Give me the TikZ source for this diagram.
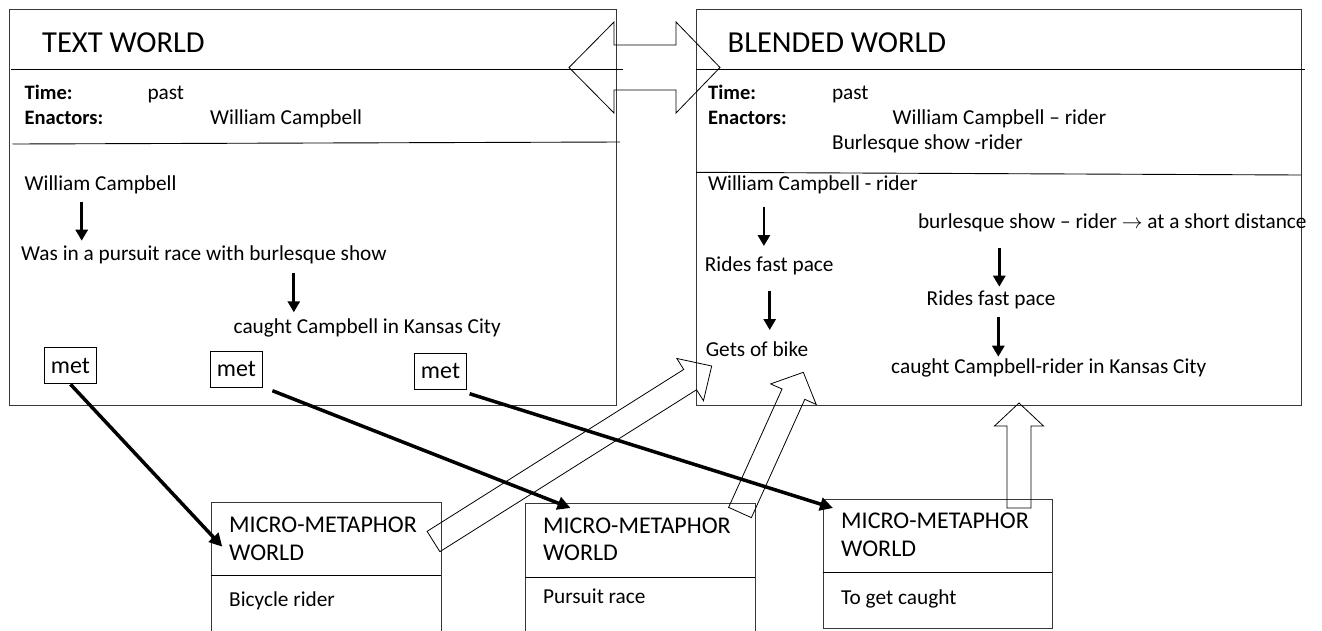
\documentclass[tikz,border=0pt]{standalone}
\usepackage{fontspec}
\setmainfont{Carlito}
\usetikzlibrary{calc,arrows.meta}

% hollow block arrow: tail, tip, shaft half-width, head half-width, head length
\newcommand\blockarrow[5]{%
  \path ($(#2)!#5!(#1)$) coordinate (neck);
  \draw[hollow] ($(#1)!#3!90:(#2)$) -- ($(neck)!#3!90:(#2)$)
    -- ($(neck)!#4!90:(#2)$) -- (#2) -- ($(neck)!#4!-90:(#2)$)
    -- ($(neck)!#3!-90:(#2)$) -- ($(#1)!#3!-90:(#2)$) -- cycle;}

\begin{document}
\begin{tikzpicture}[x=1pt,y=-1pt,
  frame/.style={draw=black!78, line width=0.9pt, inner sep=0pt, anchor=north west},
  rule/.style={draw=black, line width=0.9pt},
  txt/.style={anchor=base west, inner sep=0pt, font=\fontsize{21.3}{25}\selectfont},
  lbl/.style={anchor=base west, inner sep=0pt, font=\fontsize{20.5}{24}\selectfont\bfseries},
  heading/.style={anchor=base west, inner sep=0pt, font=\fontsize{30.5}{36}\selectfont},
  mtitle/.style={anchor=base west, inner sep=0pt, font=\fontsize{24}{28}\selectfont},
  metbox/.style={draw=black, line width=1pt, minimum width=52pt, minimum height=36pt,
    inner sep=0pt, font=\fontsize{24}{28}\selectfont, anchor=north west},
  flow/.style={line width=2.8pt, -{Triangle[length=11pt,width=12pt]}},
  link/.style={line width=3.5pt, -{Triangle[length=13pt,width=13pt]}},
  hollow/.style={draw=black, line width=0.8pt, line join=miter},
]
\useasboundingbox (0,0) rectangle (1322,630);

% ---------- text world ----------
\node[frame, minimum width=607pt, minimum height=396pt] (tw) at (9,9) {};
\draw[rule] (11,69) -- (623,69);
\draw[rule] (12.5,144) -- (620,142);
\node[heading] (twtitle) at (42,52.7) {TEXT WORLD};
\node[lbl] (twtime) at (24.5,99.3) {Time:};
\node[txt] (twpast) at (147.3,99.3) {past};
\node[lbl] (twenact) at (24.5,124) {Enactors:};
\node[txt] (twwc) at (210,124) {William Campbell};
\node[txt] (tw1) at (24.5,190) {William Campbell};
\node[txt] (tw2) at (21,260) {Was in a pursuit race with burlesque show};
\node[txt] (tw3) at (233.5,333.3) {caught Campbell in Kansas City};
\draw[flow] (81.7,201.7) -- (81.7,240.7);
\draw[flow] (293.8,272.7) -- (293.8,312.3);

\node[metbox] (met1) at (44,347.3) {met};
\node[metbox] (met2) at (210,350.7) {met};
\node[metbox] (met3) at (414,352.7) {met};

% ---------- blended world ----------
\node[frame, minimum width=605pt, minimum height=396pt] (bw) at (696,9) {};
\draw[rule] (696,69) -- (1305,69);
\draw[rule] (696,172.3) -- (1301,175);
\node[heading] (bwtitle) at (727.5,52.7) {BLENDED WORLD};
\node[lbl] (bwtime) at (708,99.3) {Time:};
\node[txt] (bwpast) at (831.8,99.3) {past};
\node[lbl] (bwenact) at (708,124) {Enactors:};
\node[txt] (bwwc) at (892.5,124) {William Campbell – rider};
\node[txt] (bwbs) at (832,149.3) {Burlesque show -rider};
\node[txt] (bw1) at (708,190) {William Campbell - rider};
\node[txt] (bw2) at (704.7,271.7) {Rides fast pace};
\node[txt] (bw3) at (705.6,356) {Gets of bike};
\node[txt] (bw4) at (917.8,228.3) {burlesque show – rider $\rightarrow$ at a short distance};
\node[txt] (bw5) at (926.5,305) {Rides fast pace};
\node[txt] (bw6) at (891,373.3) {caught Campbell-rider in Kansas City};
\draw[flow] (763.9,206.7) -- (763.9,246);
\draw[flow] (769.7,290.7) -- (769.7,330);
\draw[flow] (999.3,248.3) -- (999.3,286.7);
\draw[flow] (998.3,317.3) -- (998.3,356.7);

% ---------- two-way link between the worlds ----------
\draw[hollow] (569,67.5) -- (614,22) -- (614,45) -- (676,45) -- (676,22) -- (720,67.5)
  -- (676,113) -- (676,90) -- (614,90) -- (614,113) -- cycle;

% ---------- micro-metaphor worlds ----------
\node[frame, minimum width=230pt, minimum height=140pt] (mm1) at (211,502) {};
\draw[rule] (211,575) -- (441,575);
\node[mtitle] (mm1a) at (229,532.7) {MICRO-METAPHOR};
\node[mtitle] (mm1b) at (229,560) {WORLD};
\node[txt] (mm1c) at (229,606.7) {Bicycle rider};

\node[frame, minimum width=230pt, minimum height=140pt] (mm2) at (524.5,503) {};
\draw[rule] (524.5,577) -- (754.5,577);
\node[mtitle] (mm2a) at (542.9,533.3) {MICRO-METAPHOR};
\node[mtitle] (mm2b) at (542.9,560.7) {WORLD};
\node[txt] (mm2c) at (542.9,603.3) {Pursuit race};

\node[frame, minimum width=229pt, minimum height=129pt] (mm3) at (823,499) {};
\draw[rule] (823,572) -- (1052,572);
\node[mtitle] (mm3a) at (841,528.3) {MICRO-METAPHOR};
\node[mtitle] (mm3b) at (841,556.7) {WORLD};
\node[txt] (mm3c) at (841,604) {To get caught};

% ---------- projections into the blend ----------
\coordinate (pa0) at (433.5,541.5);
\coordinate (pa1) at (711.7,366);
\coordinate (pb0) at (740,512.5);
\coordinate (pb1) at (803.3,372.3);
\coordinate (pc0) at (1019,508);
\coordinate (pc1) at (1019,403);
\blockarrow{pa0}{pa1}{12pt}{25pt}{25.5pt}
\blockarrow{pb0}{pb1}{12.5pt}{25pt}{24pt}
\blockarrow{pc0}{pc1}{12pt}{24.5pt}{23pt}

% ---------- metaphor links ----------
\coordinate (in1) at (222.3,546.7);
\coordinate (in2) at (570.5,508);
\coordinate (in3) at (833,508);
\draw[link] (met1.south) -- (in1);
\draw[link] ([shift={(9.4,3)}]met2.south east) -- (in2);
\draw[link] ([shift={(2.6,4)}]met3.south east) -- (in3);
\end{tikzpicture}
\end{document}
